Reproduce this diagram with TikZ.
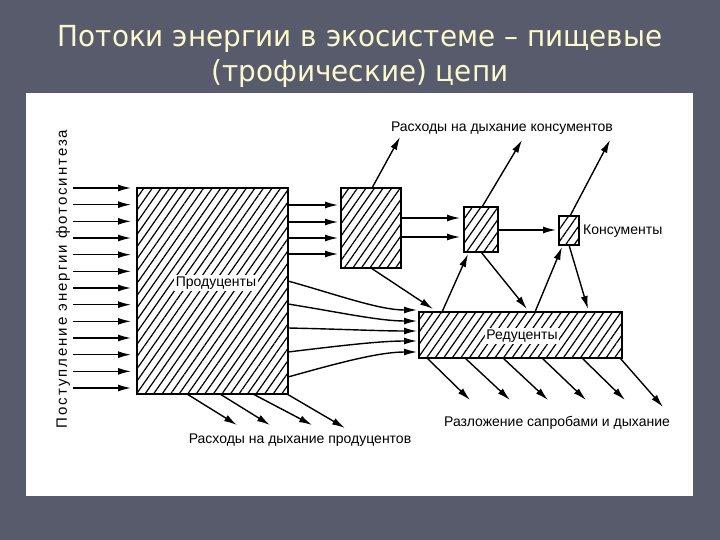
\documentclass[tikz,border=0pt]{standalone}
\usepackage{fontspec}
\setmainfont{Liberation Sans}
\newfontfamily\titlefont{DejaVu Sans}[FakeStretch=0.96]
\newfontfamily\spacedfont{Liberation Sans}[LetterSpace=13]
\usetikzlibrary{arrows.meta,patterns.meta,calc}
\definecolor{bgc}{RGB}{88,91,108}
\definecolor{titlec}{RGB}{250,248,205}
\tikzset{
  box/.style={draw, line width=2.4pt, pattern={Lines[angle=55,distance=7pt,line width=1.2pt]}, inner sep=0pt, outer sep=0pt},
  arr/.style={line width=1.4pt, -{Latex[length=13pt,width=7pt]}},
  lbl/.style={font=\fontsize{14}{16}\selectfont, inner sep=1pt},
  inlbl/.style={lbl, fill=white, inner sep=1.5pt},
  titletext/.style={text=titlec, font=\titlefont\fontsize{29}{32}\selectfont, anchor=base, inner sep=0pt},
}
\begin{document}
\begin{tikzpicture}[x=1pt,y=-1pt]
\useasboundingbox (0,0) rectangle (720,540);
\fill[bgc] (0,0) rectangle (720,540);
\fill[white] (26,93) rectangle (693,496);
% title
\node[titletext] (t1) at (360,47) {Потоки энергии в экосистеме – пищевые};
\node[titletext] (t2) at (360,82) {(трофические) цепи};
% boxes
\node[box, minimum width=151pt, minimum height=206pt] (prod) at (212.5,291) {};
\node[box, minimum width=60pt, minimum height=80pt] (c1) at (371,228) {};
\node[box, minimum width=34pt, minimum height=45pt] (c2) at (481,229.5) {};
\node[box, minimum width=20pt, minimum height=29pt] (c3) at (569,230.5) {};
\node[box, minimum width=203pt, minimum height=46pt] (red) at (520.5,335) {};
\node[inlbl] (prodl) at (216,283) {Продуценты};
\node[inlbl] (redl) at (522,336) {Редуценты};
% labels
\node[lbl, anchor=west] (c3l) at (582,231) {Консументы};
\node[lbl] (rk) at (502,128) {Расходы на дыхание консументов};
\node[lbl] (rp) at (300,440) {Расходы на дыхание продуцентов};
\node[lbl] (rs) at (557,423) {Разложение сапробами и дыхание};
\node[lbl, rotate=90, font=\spacedfont\fontsize{15}{17}\selectfont] (ph) at (63,279) {Поступление энергии фотосинтеза};
% solar input arrows
\foreach \i in {0,...,12}{
  \pgfmathsetmacro\yy{188+\i*16.667}
  \coordinate (in\i) at (73,\yy);
  \draw[arr, shorten >=6pt] (in\i) -- (in\i -| prod.west);
}
% producers -> consumer 1
\foreach \yy in {205,222,238,254}{
  \draw[arr, shorten >=3pt] (prod.east |- 0,\yy) -- (c1.west |- 0,\yy);
}
% consumer 1 -> consumer 2
\foreach \yy in {218,237}{
  \draw[arr, shorten >=4pt] (c1.east |- 0,\yy) -- (c2.west |- 0,\yy);
}
% consumer 2 -> consumer 3
\draw[arr, shorten >=3pt] (c2.east |- 0,230) -- (c3.west |- 0,230);
% respiration of consumers
\coordinate (up1) at (400,137);
\coordinate (up2) at (522,140);
\coordinate (up3) at (610,140);
\draw[arr] ($(c1.north)+(1,0)$) -- (up1);
\draw[arr] ($(c2.north)+(1,0)$) -- (up2);
\draw[arr] ($(c3.north)+(1,0)$) -- (up3);
% consumers <-> reducers
\draw[arr] (c1.south) -- ($(red.north west)+(14,-3)$);
\draw[arr] (c2.south) -- ($(red.north west)+(108,-3)$);
\draw[arr] ($(red.north west)+(23,0)$) -- ($(c2.south west)+(4,2)$);
\draw[arr] ($(red.north west)+(116,0)$) -- ($(c3.south west)+(3,2)$);
\draw[arr] (c3.south) -- ($(red.north west)+(169,-3)$);
% producers -> reducers (curved)
\draw[arr, shorten >=2pt] (prod.east |- 0,281) .. controls +(50,14) and +(-40,0) .. (red.west |- 0,310);
\draw[arr, shorten >=2pt] (prod.east |- 0,304) .. controls +(50,8) and +(-40,0) .. (red.west |- 0,321);
\draw[arr, shorten >=2pt] (prod.east |- 0,328) .. controls +(50,1) and +(-40,0) .. (red.west |- 0,331);
\draw[arr, shorten >=2pt] (prod.east |- 0,352) .. controls +(50,-6) and +(-40,0) .. (red.west |- 0,341);
\draw[arr, shorten >=2pt] (prod.east |- 0,377) .. controls +(50,-14) and +(-40,0) .. (red.west |- 0,352);
% respiration of producers
\coordinate (pr1) at (237,425);
\coordinate (pr2) at (270,425);
\coordinate (pr3) at (312,425);
\coordinate (pr4) at (345,428);
\draw[arr] ($(prod.south west)+(50,0)$) -- (pr1);
\draw[arr] ($(prod.south west)+(83,0)$) -- (pr2);
\draw[arr] ($(prod.south west)+(116,0)$) -- (pr3);
\draw[arr] ($(prod.south west)+(150,0)$) -- (pr4);
% decomposition
\coordinate (d1) at (470,400);
\coordinate (d2) at (510,400);
\coordinate (d3) at (548,400);
\coordinate (d4) at (586,400);
\coordinate (d5) at (625,400);
\coordinate (d6) at (663,407);
\draw[arr] ($(red.south west)+(8,0)$) -- (d1);
\draw[arr] ($(red.south west)+(46,0)$) -- (d2);
\draw[arr] ($(red.south west)+(84,0)$) -- (d3);
\draw[arr] ($(red.south west)+(123,0)$) -- (d4);
\draw[arr] ($(red.south west)+(163,0)$) -- (d5);
\draw[arr] ($(red.south west)+(201,0)$) -- (d6);
\end{tikzpicture}
\end{document}
